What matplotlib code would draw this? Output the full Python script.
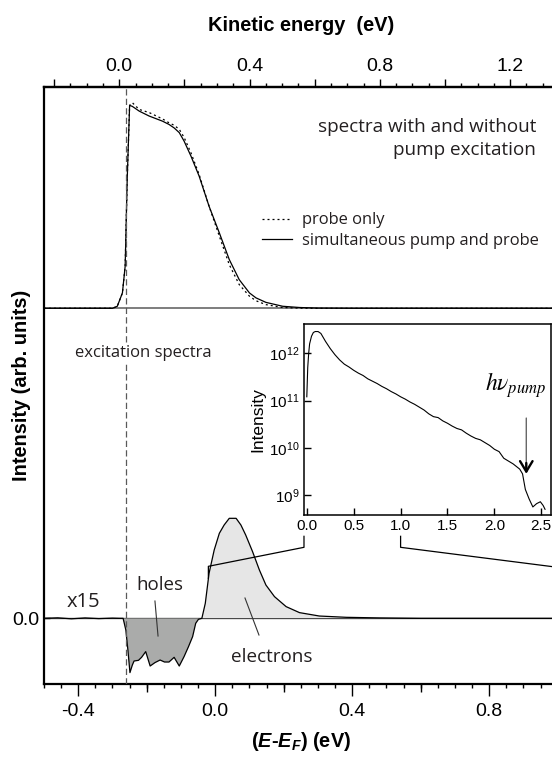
import numpy as np
import matplotlib
matplotlib.use('Agg')
import matplotlib.pyplot as plt
from matplotlib.ticker import MultipleLocator, FuncFormatter, NullFormatter, FixedLocator, NullLocator

plt.rcParams['font.family'] = ['Liberation Sans', 'DejaVu Sans']
plt.rcParams['mathtext.fontset'] = 'custom'
plt.rcParams['mathtext.rm'] = 'Liberation Sans'
plt.rcParams['mathtext.it'] = 'Liberation Sans:italic:bold'
plt.rcParams['mathtext.bf'] = 'Liberation Sans:bold'

ANNOT_FONT = ['Open Sans', 'DejaVu Sans']
TEXT_COLOR = '#231f20'

# photoemission spectra (normalised to peak), E - E_F in eV
spec_energy = [-0.50, -0.40, -0.32, -0.300, -0.286, -0.271, -0.263, -0.257, -0.250,
               -0.242, -0.222, -0.193, -0.154, -0.135, -0.120, -0.105, -0.091, -0.071,
               -0.047, -0.018, 0.012, 0.041, 0.070, 0.100, 0.119, 0.148, 0.197, 0.246,
               0.30, 0.40, 0.60, 1.00]
pump_probe = [0.0, 0.0, 0.0, 0.0, 0.01, 0.075, 0.205, 0.63, 0.99,
              0.985, 0.962, 0.938, 0.913, 0.897, 0.880, 0.857, 0.816, 0.743,
              0.645, 0.498, 0.368, 0.238, 0.140, 0.075, 0.051, 0.029, 0.010, 0.004,
              0.001, 0.0, 0.0, 0.0]
probe_only = [0.0, 0.0, 0.0, 0.0, 0.01, 0.075, 0.205, 0.63, 0.99,
              1.003, 0.970, 0.955, 0.924, 0.905, 0.893, 0.873, 0.834, 0.759,
              0.653, 0.498, 0.352, 0.213, 0.116, 0.059, 0.037, 0.018, 0.004, 0.001,
              0.0, 0.0, 0.0, 0.0]

# excitation (difference) spectrum, x15
diff_energy = [-0.50, -0.46, -0.42, -0.38, -0.34, -0.30, -0.28, -0.269, -0.261, -0.255,
               -0.249, -0.242, -0.237, -0.224, -0.215, -0.203, -0.190, -0.176, -0.161,
               -0.148, -0.135, -0.120, -0.105, -0.091, -0.078, -0.066, -0.057, -0.049,
               -0.039, -0.029, -0.018, -0.003, 0.012, 0.026, 0.041, 0.061, 0.075, 0.089,
               0.109, 0.129, 0.148, 0.173, 0.207, 0.246, 0.304, 0.383, 0.48, 0.60, 0.80, 1.00]
diff_signal = [0.0, 0.005, -0.005, 0.004, -0.003, 0.002, 0.0, 0.0, -0.117, -0.317,
               -0.543, -0.467, -0.427, -0.42, -0.39, -0.333, -0.477, -0.443, -0.417,
               -0.437, -0.437, -0.39, -0.477, -0.383, -0.283, -0.183, -0.05, -0.01,
               0.0, 0.15, 0.45, 0.683, 0.85, 0.933, 1.0, 1.0, 0.933, 0.833,
               0.667, 0.483, 0.333, 0.217, 0.117, 0.057, 0.023, 0.01, 0.004, 0.0, 0.0, 0.0]

# inset: excited electron distribution on log scale
inset_energy = [0.0, 0.01, 0.02, 0.03, 0.05, 0.07, 0.09, 0.12, 0.15, 0.2, 0.25, 0.3,
                0.35, 0.4, 0.45, 0.5, 0.55, 0.6, 0.65, 0.7, 0.75, 0.8, 0.85, 0.9,
                0.95, 1.0, 1.05, 1.1, 1.15, 1.2, 1.25, 1.3, 1.35, 1.4, 1.45, 1.5,
                1.55, 1.6, 1.65, 1.7, 1.75, 1.8, 1.85, 1.9, 1.95, 2.0, 2.05, 2.1,
                2.15, 2.2, 2.27, 2.3, 2.33, 2.37, 2.41, 2.45, 2.49, 2.52, 2.54]
inset_log_intensity = [11.08, 11.7, 12.0, 12.2, 12.36, 12.44, 12.46, 12.46, 12.42, 12.25,
                       12.10, 11.97, 11.86, 11.77, 11.71, 11.64, 11.58, 11.53, 11.46,
                       11.41, 11.36, 11.30, 11.25, 11.19, 11.14, 11.08, 11.03, 10.97,
                       10.92, 10.86, 10.80, 10.72, 10.66, 10.64, 10.57, 10.52, 10.46,
                       10.41, 10.38, 10.31, 10.25, 10.20, 10.17, 10.11, 10.05, 9.97,
                       9.92, 9.78, 9.72, 9.66, 9.55, 9.45, 9.12, 8.92, 8.75, 8.82,
                       8.86, 8.78, 8.70]

fermi_edge = -0.26
upper_offset = 3.10
upper_scale = 2.05


def to_kinetic(e):
    return 1.0514 * np.asarray(e) + 0.2945


def from_kinetic(k):
    return (np.asarray(k) - 0.2945) / 1.0514


def top_label(v, pos):
    # label only every second major tick (multiples of 0.4)
    if abs(round(v / 0.4) * 0.4 - v) < 1e-6 and v > -0.05:
        return '%.1f' % abs(v) if abs(v) < 1e-9 else '%.1f' % v
    return ''


fig = plt.figure(figsize=(5.52, 7.58), dpi=100)
ax = fig.add_axes([0.0797, 0.0976, 0.9306, 0.7876])
ax.set_xlim(-0.5, 1.0)
ax.set_ylim(-0.657, 5.313)

e = np.array(spec_energy)
ax.axhline(upper_offset, color='0.45', lw=1.3, zorder=1)
ax.axhline(0.0, color='black', lw=0.9, zorder=1)
l_probe, = ax.plot(e, upper_offset + upper_scale * np.array(probe_only), color='black',
                   lw=0.9, linestyle=(0, (1.6, 2.4)), label='probe only', zorder=3)
l_pp, = ax.plot(e, upper_offset + upper_scale * np.array(pump_probe), color='black',
                lw=0.9, label='simultaneous pump and probe', zorder=3)

de = np.array(diff_energy)
ds = np.array(diff_signal)
ax.fill_between(de, ds, 0, where=ds <= 0, interpolate=True, color='#aaabaa', lw=0, zorder=2)
ax.fill_between(de, ds, 0, where=ds >= 0, interpolate=True, color='#e6e6e6', lw=0, zorder=2)
ax.plot(de, ds, color='black', lw=0.9, zorder=3)

ax.axvline(fermi_edge, color='0.35', lw=0.9, dashes=(5, 2.6), zorder=4)

# axes styling
for side in ['left', 'bottom', 'top']:
    ax.spines[side].set_linewidth(1.6)
ax.spines['right'].set_visible(False)
ax.xaxis.set_major_locator(MultipleLocator(0.4))
ax.xaxis.set_minor_locator(MultipleLocator(0.05))
ax.xaxis.set_major_formatter(FuncFormatter(lambda v, p: '0.0' if abs(v) < 1e-9 else '%.1f' % v))
ax.tick_params(axis='x', which='major', direction='out', length=8.5, width=1.0,
               labelsize=14, pad=5.5)
ax.tick_params(axis='x', which='minor', direction='out', length=3, width=1.0)
ax.yaxis.set_major_locator(FixedLocator([0.0]))
ax.yaxis.set_major_formatter(FuncFormatter(lambda v, p: '0.0'))
ax.tick_params(axis='y', direction='in', length=4, width=1.0, labelsize=14, pad=3)
ax.set_ylabel('Intensity (arb. units)', fontsize=14.4, fontweight='bold')
ax.yaxis.set_label_coords(-0.025, 0.5)
ax.set_xlabel(r'($E$-$E_F$) (eV)', fontsize=14.4, fontweight='bold', labelpad=7)

# medium ticks at the 0.2 positions
mid = ax.secondary_xaxis('bottom')
mid.xaxis.set_major_locator(FixedLocator([-0.2, 0.2, 0.6]))
mid.xaxis.set_major_formatter(NullFormatter())
mid.tick_params(direction='out', length=5.5, width=1.0)
mid.spines['bottom'].set_visible(False)

top = ax.secondary_xaxis('top', functions=(to_kinetic, from_kinetic))
top.xaxis.set_major_locator(MultipleLocator(0.2))
top.xaxis.set_minor_locator(MultipleLocator(0.05))
top.xaxis.set_major_formatter(FuncFormatter(top_label))
top.tick_params(which='major', direction='out', length=6, width=1.0, labelsize=14, pad=3)
top.tick_params(which='minor', direction='out', length=3, width=1.0)
top.spines['top'].set_linewidth(1.6)
top.set_xlabel('Kinetic energy  (eV)', fontsize=14.4, fontweight='bold', labelpad=19)

# annotations
ax.text(0.9365, 4.916, 'spectra with and without', family=ANNOT_FONT, fontsize=13.6,
        ha='right', va='center', color=TEXT_COLOR)
ax.text(0.9365, 4.683, 'pump excitation', family=ANNOT_FONT, fontsize=13.6,
        ha='right', va='center', color=TEXT_COLOR)
ax.legend(handles=[l_probe, l_pp], loc='upper left', bbox_to_anchor=(0.4238, 0.790),
          frameon=False, prop={'family': ANNOT_FONT, 'size': 11.9}, handlelength=1.85,
          handletextpad=0.6, labelspacing=0.28, borderpad=0, borderaxespad=0,
          labelcolor=TEXT_COLOR)
ax.text(-0.4095, 2.65, 'excitation spectra', family=ANNOT_FONT, fontsize=12,
        ha='left', va='center', color=TEXT_COLOR, zorder=5,
        bbox=dict(facecolor='white', edgecolor='none', pad=1))
ax.text(-0.385, 0.166, 'x15', family=ANNOT_FONT, fontsize=14.5, ha='center', va='center',
        color=TEXT_COLOR)
ax.text(-0.162, 0.333, 'holes', family=ANNOT_FONT, fontsize=13.5, ha='center', va='center',
        color=TEXT_COLOR)
ax.plot([-0.176, -0.167], [0.173, -0.177], color='0.2', lw=0.8, zorder=4)
ax.text(0.1637, -0.384, 'electrons', family=ANNOT_FONT, fontsize=13.6, ha='center',
        va='center', color=TEXT_COLOR)
ax.plot([0.0869, 0.1277], [0.203, -0.167], color='0.2', lw=0.8, zorder=4)

# inset
ax_in = fig.add_axes([0.5507, 0.3206, 0.4469, 0.2520])
ax_in.plot(inset_energy, 10 ** np.array(inset_log_intensity), color='black', lw=0.8)
ax_in.set_yscale('log')
ax_in.set_xlim(-0.03, 2.6)
ax_in.set_ylim(10 ** 8.58, 10 ** 12.62)
ax_in.xaxis.set_major_locator(MultipleLocator(0.5))
ax_in.xaxis.set_major_formatter(FuncFormatter(lambda v, p: '0.0' if abs(v) < 1e-9 else '%.1f' % v))
ax_in.yaxis.set_major_locator(FixedLocator([1e9, 1e10, 1e11, 1e12]))
ax_in.yaxis.set_minor_locator(NullLocator())
ax_in.tick_params(direction='in', length=5, width=1.0, labelsize=11, pad=3)
for s in ax_in.spines.values():
    s.set_linewidth(1.1)
ax_in.set_ylabel('Intensity', fontsize=12.5, labelpad=3)

ax_in.text(2.23, 10 ** 11.33, r'$h\nu_{pump}$', math_fontfamily='stix', fontsize=17,
           ha='center', va='center')
ax_in.annotate('', xy=(2.34, 10 ** 9.5), xytext=(2.34, 10 ** 10.63),
               arrowprops=dict(arrowstyle='-', color='0.4', lw=1.0, shrinkA=0, shrinkB=0))
ax_in.annotate('', xy=(2.34, 10 ** 9.45), xytext=(2.34, 10 ** 9.68),
               arrowprops=dict(arrowstyle='->,head_length=0.75,head_width=0.45',
                               color='black', lw=1.7, shrinkA=0, shrinkB=0))

# zoom brackets linking main axis to inset
inv = ax.transData.inverted()
x_left = inv.transform(ax_in.transAxes.transform((0.0, 0.0)))[0]
x_right = inv.transform(ax_in.transData.transform((1.0, 1e9)))[0]
ax.plot([-0.02, -0.02, x_left, x_left], [0.40, 0.52, 0.71, 0.82], color='black',
        lw=0.9, zorder=4)
ax.plot([1.0, 1.0, x_right, x_right], [0.40, 0.51, 0.71, 0.82], color='black',
        lw=0.9, zorder=4, clip_on=False)

fig.savefig('out.png', dpi=100)
